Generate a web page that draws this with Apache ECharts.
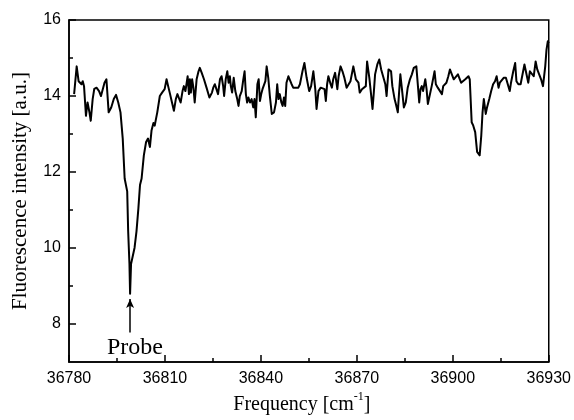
<!DOCTYPE html>
<html>
<head>
<meta charset="utf-8">
<script src="https://cdn.jsdelivr.net/npm/echarts@6/dist/echarts.min.js"></script>
<style>
  html, body { margin: 0; padding: 0; background: #fff; }
  #chart { width: 574px; height: 420px; }
</style>
</head>
<body>
<div id="chart"></div>
<script>
// Frequency [cm^-1]
var frequency = [
  36781.6, 36782.4, 36783.0, 36783.4, 36783.9, 36784.3, 36784.7, 36785.3, 36785.8, 36786.4,
  36786.8, 36787.4, 36787.9, 36788.6, 36789.4, 36790.0, 36790.5, 36791.1, 36791.7, 36792.4,
  36793.2, 36794.0, 36794.7, 36795.4, 36796.1, 36796.8, 36797.4, 36798.2, 36798.5, 36798.9,
  36799.1, 36799.4, 36800.5, 36801.1, 36801.7, 36802.2, 36802.7, 36803.4, 36804.1, 36804.7,
  36805.3, 36805.8, 36806.4, 36806.8, 36807.2, 36807.6, 36808.4, 36809.1, 36809.5, 36809.9,
  36810.5, 36811.0, 36811.6, 36812.2, 36812.8, 36813.4, 36813.9, 36814.5, 36814.9, 36815.5,
  36815.9, 36816.4, 36816.8, 36817.1, 36817.5, 36817.8, 36818.1, 36818.5, 36818.9, 36819.3,
  36819.9, 36820.5, 36820.9, 36821.5, 36822.2, 36823.0, 36823.9, 36824.7, 36825.1, 36825.6,
  36826.1, 36826.6, 36827.2, 36827.7, 36828.2, 36828.5, 36829.0, 36829.5, 36829.9, 36830.3,
  36830.6, 36831.0, 36831.5, 36832.0, 36832.6, 36833.0, 36833.4, 36834.0, 36834.5, 36834.9,
  36835.3, 36835.7, 36836.1, 36836.6, 36837.1, 36837.6, 36838.0, 36838.4, 36838.9, 36839.3,
  36839.7, 36840.1, 36840.5, 36840.9, 36841.4, 36841.8, 36842.3, 36842.8, 36843.4, 36844.1,
  36844.7, 36845.1, 36845.5, 36845.9, 36846.4, 36846.8, 36847.2, 36847.6, 36848.0, 36848.6,
  36849.6, 36850.1, 36851.7, 36852.2, 36853.0, 36853.6, 36854.3, 36855.1, 36855.7, 36856.4,
  36857.0, 36857.4, 36858.0, 36858.7, 36859.3, 36859.9, 36860.3, 36860.7, 36861.1, 36861.8,
  36862.2, 36862.6, 36863.2, 36863.9, 36864.3, 36864.9, 36865.5, 36866.1, 36866.8, 36867.4,
  36868.0, 36868.9, 36869.3, 36869.7, 36870.5, 36870.9, 36871.6, 36872.2, 36872.8, 36873.2,
  36873.9, 36874.5, 36874.9, 36875.3, 36875.7, 36876.4, 36877.0, 36877.6, 36878.2, 36878.9,
  36879.3, 36879.9, 36880.7, 36881.1, 36881.8, 36882.2, 36882.8, 36883.2, 36883.6, 36884.1,
  36884.7, 36885.3, 36885.9, 36886.6, 36887.2, 36887.8, 36888.6, 36889.1, 36889.5, 36889.9,
  36890.3, 36890.7, 36891.4, 36891.8, 36892.2, 36892.8, 36893.4, 36893.9, 36894.3, 36894.7,
  36895.3, 36895.9, 36896.6, 36897.0, 36897.4, 36898.0, 36898.6, 36899.1, 36899.7, 36900.3,
  36900.9, 36901.6, 36902.2, 36902.6, 36903.2, 36903.9, 36904.5, 36904.9, 36905.3, 36905.9,
  36906.4, 36907.0, 36907.6, 36908.0, 36908.4, 36908.9, 36909.3, 36909.7, 36910.3, 36910.7,
  36911.4, 36912.0, 36912.6, 36913.2, 36913.7, 36914.3, 36914.7, 36915.3, 36915.9, 36916.6,
  36917.2, 36917.8, 36918.2, 36918.9, 36919.5, 36919.9, 36920.5, 36921.2, 36921.8, 36922.4,
  36923.0, 36923.6, 36924.1, 36924.7, 36925.3, 36925.9, 36926.4, 36927.0, 36927.6, 36928.2,
  36928.9, 36929.3, 36929.7, 36930.0
];

// Fluorescence intensity [a.u.]
var intensity = [
  14.05, 14.78, 14.39, 14.44, 14.31, 14.39, 14.26, 13.48, 13.83, 13.57,
  13.35, 13.92, 14.19, 14.22, 14.13, 14.00, 14.00, 14.35, 14.44, 13.57,
  13.70, 13.92, 14.03, 13.83, 13.57, 12.88, 11.83, 11.49, 10.44, 9.58,
  8.80, 9.58, 10.01, 10.44, 11.05, 11.66, 11.83, 12.44, 12.79, 12.88,
  12.66, 13.09, 13.29, 13.22, 13.40, 13.57, 14.00, 14.09, 14.05, 14.18,
  14.44, 14.26, 14.05, 13.83, 13.61, 13.92, 14.05, 14.00, 13.83, 14.13,
  14.26, 14.13, 14.35, 14.52, 14.05, 14.44, 14.09, 14.44, 14.22, 13.83,
  14.44, 14.65, 14.74, 14.61, 14.44, 14.22, 13.96, 14.09, 14.22, 14.31,
  14.18, 14.05, 14.44, 14.52, 14.26, 14.00, 14.44, 14.65, 14.35, 14.52,
  14.26, 14.09, 14.48, 14.13, 13.92, 13.74, 14.00, 14.13, 14.44, 14.65,
  14.05, 13.83, 13.96, 13.83, 13.92, 13.70, 13.92, 13.44, 14.31, 14.44,
  13.87, 14.05, 14.18, 14.18, 14.39, 14.78, 14.48, 14.00, 13.53, 13.57,
  13.83, 14.31, 13.92, 14.05, 13.83, 13.74, 13.96, 13.74, 14.35, 14.52,
  14.31, 14.22, 14.22, 14.31, 14.65, 14.87, 14.48, 14.13, 14.26, 14.65,
  14.18, 13.66, 14.13, 14.22, 14.26, 14.18, 13.87, 14.31, 14.52, 14.31,
  14.22, 14.44, 14.61, 14.18, 14.52, 14.78, 14.65, 14.48, 14.22, 14.26,
  14.39, 14.78, 14.83, 14.44, 14.35, 14.09, 14.18, 14.13, 14.26, 14.91,
  14.48, 14.00, 13.66, 14.09, 14.57, 14.83, 14.96, 14.70, 14.52, 14.31,
  14.00, 14.70, 14.65, 14.26, 13.92, 13.79, 13.57, 14.09, 14.57, 14.18,
  13.70, 13.83, 14.22, 14.44, 14.57, 14.74, 14.78, 14.26, 13.83, 14.18,
  14.26, 14.13, 14.44, 14.18, 13.79, 13.83, 14.26, 14.31, 14.65, 14.31,
  14.22, 14.18, 14.05, 14.26, 14.31, 14.35, 14.52, 14.70, 14.57, 14.44,
  14.39, 14.57, 14.44, 14.35, 14.31, 14.44, 14.39, 14.52, 14.44, 13.31,
  13.22, 13.05, 12.53, 12.48, 12.44, 12.96, 13.57, 13.92, 13.53, 13.70,
  13.92, 14.13, 14.31, 14.39, 14.52, 14.22, 14.35, 14.39, 14.48, 14.48,
  14.52, 14.13, 14.35, 14.65, 14.87, 14.39, 14.31, 14.31, 14.26, 14.83,
  14.83, 14.35, 14.65, 14.61, 14.52, 14.91, 14.70, 14.57, 14.44, 14.26,
  14.78, 15.22, 15.44, 15.39
];

// Axis ticks
var xMin = 36780, xMax = 36930, xStep = 30;
var yMin = 7, yMax = 16;
var yMajorTicks = [8, 10, 12, 14, 16];
var yMinorTicks = [9, 11, 13, 15];

// "Probe" annotation (arrow from base to tip at the probe frequency)
var probeLabel = 'Probe';
var probeFreq = 36799.1;
var probeArrowBase = 7.78;
var probeArrowTip = 8.66;

var seriesData = frequency.map(function (f, i) { return [f, intensity[i]]; });

var chart = echarts.init(document.getElementById('chart'), null, { renderer: 'canvas' });
var sans = 'Liberation Sans, Arial, Helvetica, sans-serif';
var serif = 'Liberation Serif, Times New Roman, serif';

chart.setOption({
  backgroundColor: '#ffffff',
  animation: false,
  grid: {
    left: 69, right: 25, top: 20, bottom: 55,
    show: true, borderColor: '#000', borderWidth: 1.5, backgroundColor: 'transparent'
  },
  xAxis: {
    type: 'value',
    min: xMin, max: xMax, interval: xStep,
    axisLine: { show: true, lineStyle: { color: '#000', width: 1.5 } },
    axisTick: { show: true, inside: true, length: 7, lineStyle: { color: '#000', width: 1.5 } },
    minorTick: { show: true, splitNumber: 2, length: 4, lineStyle: { color: '#000', width: 1.5 } },
    splitLine: { show: false },
    axisLabel: { color: '#000', fontFamily: sans, fontSize: 16, margin: 8,
      formatter: function (v) { return String(v); } },
    name: '{t|Frequency [cm}{s|-1}{t|]}',
    nameLocation: 'middle',
    nameGap: 28,
    nameTextStyle: {
      padding: [0, 14, 0, 0],
      rich: {
        t: { fontFamily: serif, fontSize: 20, color: '#000', lineHeight: 24, verticalAlign: 'bottom' },
        s: { fontFamily: serif, fontSize: 12, color: '#000', lineHeight: 12, verticalAlign: 'top' }
      }
    }
  },
  yAxis: [
    {
      type: 'value',
      min: yMin, max: yMax, interval: 1,
      axisLine: { show: true, lineStyle: { color: '#000', width: 1.5 } },
      axisTick: { show: true, inside: true, length: 7, customValues: yMajorTicks,
        lineStyle: { color: '#000', width: 1.5 } },
      splitLine: { show: false },
      axisLabel: { color: '#000', fontFamily: sans, fontSize: 16, margin: 8, customValues: yMajorTicks },
      name: 'Fluorescence intensity [a.u.]',
      nameLocation: 'middle',
      nameGap: 38,
      nameTextStyle: { fontFamily: serif, fontSize: 21, color: '#000' }
    },
    {
      type: 'value',
      position: 'left',
      min: yMin, max: yMax, interval: 1,
      axisLine: { show: false },
      axisTick: { show: true, inside: true, length: 4, customValues: yMinorTicks,
        lineStyle: { color: '#000', width: 1.5 } },
      axisLabel: { show: false },
      splitLine: { show: false }
    }
  ],
  series: [{
    type: 'line',
    data: seriesData,
    xAxisIndex: 0,
    yAxisIndex: 0,
    showSymbol: false,
    symbol: 'none',
    smooth: false,
    clip: true,
    lineStyle: { color: '#000', width: 2, join: 'round' },
    markLine: {
      silent: true,
      animation: false,
      symbol: ['none', 'arrow'],
      symbolSize: [6, 9],
      label: { show: false },
      lineStyle: { color: '#000', width: 1.5, type: 'solid' },
      data: [[
        { coord: [probeFreq, probeArrowBase] },
        { coord: [probeFreq, probeArrowTip] }
      ]]
    }
  }],
  graphic: [{
    type: 'text',
    x: 135, y: 348,
    style: {
      text: probeLabel,
      font: '24px ' + serif,
      fill: '#000',
      align: 'center',
      verticalAlign: 'middle'
    }
  }]
});
</script>
</body>
</html>
